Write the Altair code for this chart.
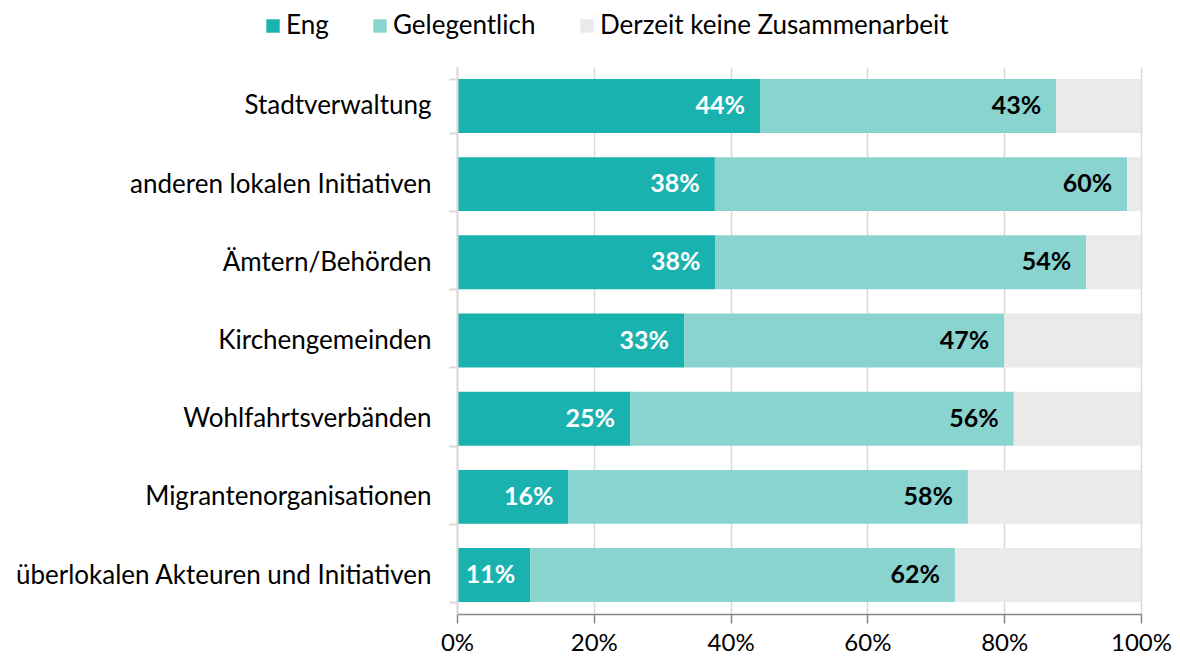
import altair as alt
import pandas as pd

categories = [
    "Stadtverwaltung",
    "anderen lokalen Initiativen",
    "Ämtern/Behörden",
    "Kirchengemeinden",
    "Wohlfahrtsverbänden",
    "Migrantenorganisationen",
    "überlokalen Akteuren und Initiativen",
]
eng = [44.3, 37.7, 37.8, 33.2, 25.3, 16.3, 10.7]
gelegentlich = [43.3, 60.3, 54.2, 46.8, 56.1, 58.4, 62.1]
series = ["Eng", "Gelegentlich", "Derzeit keine Zusammenarbeit"]
colors = ["#1AB2AF", "#89D4CF", "#EAEAEA"]
tick_values = [0, 0.2, 0.4, 0.6, 0.8, 1.0]

rows = []
for c, e, g in zip(categories, eng, gelegentlich):
    k = round(100 - e - g, 1)
    start = 0.0
    for s, v in zip(series, [e, g, k]):
        rows.append(dict(cat=c, series=s, value=v / 100, start=start / 100, end=(start + v) / 100))
        start += v
df = pd.DataFrame(rows)

FONT = "Lato"

y_enc = alt.Y(
    "cat:N",
    sort=categories,
    title=None,
    scale=alt.Scale(paddingInner=0.31, paddingOuter=0.153),
    axis=alt.Axis(
        labelFontSize=26,
        labelColor="#000000",
        labelPadding=18,
        labelLimit=460,
        domainColor="#D9D9D9",
        domainWidth=2,
        tickColor="#D9D9D9",
        tickWidth=2,
        tickSize=8,
        tickBand="extent",
        grid=False,
    ),
)

x_enc = alt.X(
    "start:Q",
    title=None,
    scale=alt.Scale(domain=[0, 1], nice=False),
    axis=alt.Axis(
        values=tick_values,
        format=".0%",
        labelFontSize=24,
        labelColor="#000000",
        labelPadding=8,
        labelFlush=False,
        domainColor="#868686",
        domainWidth=1.5,
        tickColor="#868686",
        tickWidth=1.5,
        tickSize=9,
        grid=True,
        gridColor="#D9D9D9",
        gridWidth=1.5,
    ),
)

bars = alt.Chart(df).mark_rect().encode(
    y=y_enc,
    x=x_enc,
    x2="end:Q",
    color=alt.Color(
        "series:N",
        scale=alt.Scale(domain=series, range=colors),
        legend=alt.Legend(
            orient="none",
            direction="horizontal",
            columns=3,
            legendX=-197,
            legendY=-54,
            title=None,
            symbolType="square",
            symbolSize=180,
            symbolStrokeWidth=0,
            labelFontSize=26,
            labelColor="#000000",
            labelLimit=0,
            labelOffset=0,
            columnPadding=38,
            padding=0,
        ),
    ),
)

label_base = alt.Chart(df).encode(
    y=alt.Y("cat:N", sort=categories),
    x=alt.X("end:Q"),
    text=alt.Text("value:Q", format=".0%"),
)

eng_labels = label_base.transform_filter(alt.datum.series == "Eng").mark_text(
    align="right", baseline="middle", dx=-15, fontSize=25, fontWeight="bold", color="#FFFFFF", font=FONT
)
gel_labels = label_base.transform_filter(alt.datum.series == "Gelegentlich").mark_text(
    align="right", baseline="middle", dx=-15, fontSize=25, fontWeight="bold", color="#000000", font=FONT
)

chart = (
    alt.layer(bars, eng_labels, gel_labels)
    .properties(
        width=684,
        height=547,
        autosize=alt.AutoSizeParams(type="none"),
        padding={"left": 449, "top": 59, "right": 31, "bottom": 45},
    )
    .configure(font=FONT)
    .configure_view(stroke=None)
)

chart.save("out.html", embed_options={"renderer": "svg", "actions": False})
